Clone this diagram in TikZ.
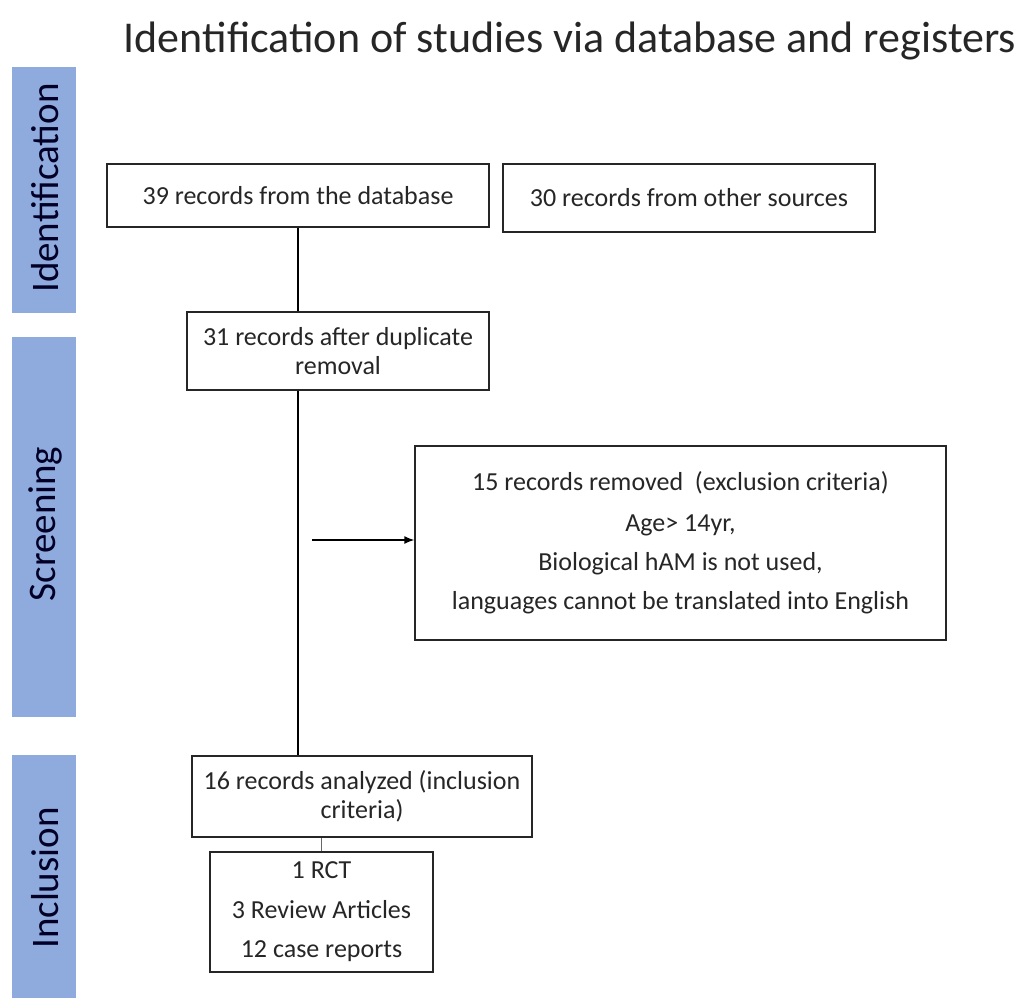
\documentclass[tikz,border=0pt]{standalone}
\usepackage{fontspec}
\setmainfont{Carlito}
\usetikzlibrary{arrows.meta}
\definecolor{bar}{HTML}{8FAADC}
\definecolor{ink}{HTML}{262626}
\begin{document}
\begin{tikzpicture}[x=1pt,y=-1pt,
  box/.style={draw=ink,line width=1.4pt,fill=white,align=center,inner sep=0pt,font=\fontsize{26}{29}\selectfont,text=ink},
  bartxt/.style={rotate=90,font=\fontsize{39}{44}\selectfont,text=black!85!blue},
  conn/.style={draw=black,line width=1.4pt}]
\useasboundingbox (0,0) rectangle (1023,998);
% side bars
\fill[bar] (12,67) rectangle (76,313);
\fill[bar] (12,337) rectangle (76,717);
\fill[bar] (12,755) rectangle (76,998);
\node[bartxt] (lid) at (45,188) {Identification};
\node[bartxt] (lsc) at (45,524) {Screening};
\node[bartxt] (lin) at (45,878) {Inclusion};
% title
\node[font=\fontsize{44}{50}\selectfont,text=ink] (title) at (570,41) {Identification of studies via database and registers};
% boxes
\node[box,minimum width=382pt,minimum height=63pt] (b1) at (298,195.5) {39 records from the database};
\node[box,minimum width=372pt,minimum height=68pt] (b2) at (689,198) {30 records from other sources};
\node[box,minimum width=302pt,minimum height=78pt] (b3) at (338,351) {31 records after duplicate\\removal};
\node[box,minimum width=531pt,minimum height=194pt] (rem) at (680.5,543) {15 records removed\ \ (exclusion criteria)\\[12pt]Age> 14yr,\\[10pt]Biological hAM is not used,\\[10pt]languages cannot be translated into English};
\node[box,minimum width=340pt,minimum height=81pt] (b16) at (362,796.5) {16 records analyzed (inclusion\\criteria)};
\node[box,minimum width=223pt,minimum height=120pt] (lst) at (321.5,912) {1 RCT\\[11pt]3 Review Articles\\[10pt]12 case reports};
% connectors
\draw[conn] (b1.south) -- (b1.south |- b3.north);
\draw[conn] (b3.south -| b1.south) -- (b1.south |- b16.north);
\coordinate (a1) at (312,540);
\draw[conn,-{Latex[length=10pt,width=8pt]}] (a1) -- (a1 -| rem.west);
\draw[conn,line width=1pt,draw=black!60] (lst.north) -- (lst.north |- b16.south);
\end{tikzpicture}
\end{document}
